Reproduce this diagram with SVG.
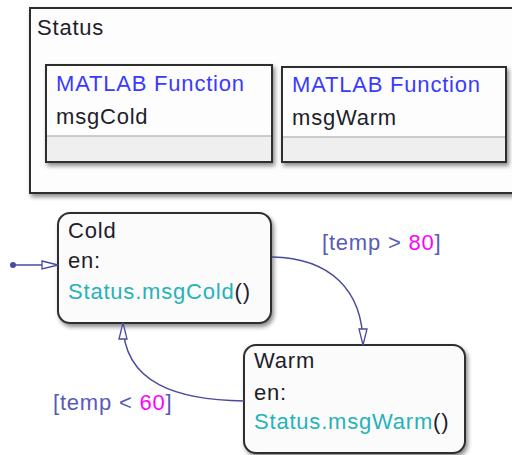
<svg xmlns="http://www.w3.org/2000/svg" width="512" height="455" viewBox="0 0 512 455">
<defs>
<filter id="sh" x="-10%" y="-10%" width="130%" height="130%">
<feDropShadow dx="2" dy="3" stdDeviation="2" flood-color="#000" flood-opacity="0.45"/>
</filter>
<marker id="arr" markerWidth="18" markerHeight="12" refX="17" refY="6" orient="auto" markerUnits="userSpaceOnUse">
<path d="M1,2 L17,6 L1,10 Z" fill="#fff" stroke="#4a4aa0" stroke-width="1.3"/>
</marker>
</defs>
<style>
text{font-family:"Liberation Sans",Arial,sans-serif;font-size:22px;letter-spacing:0.8px}
.box{fill:#fdfdfd;stroke:#2e2e2e;stroke-width:2}
.st{fill:#fbfbfb;stroke:#2e2e2e;stroke-width:2}
.foot{fill:#efefef}
.div{stroke:#bdbdbd;stroke-width:1.5}
.fn{fill:#3a3aff}
.dk{fill:#1e1e2a}
.tl{fill:#26b3b8}
.lb{fill:#5a5ab8}
.num{fill:#ff00ff}
.con{fill:none;stroke:#4a4aa0;stroke-width:1.5}
</style>
<g id="Status">
<rect class="box" x="30" y="8" width="490" height="185" filter="url(#sh)"/>
<text class="dk" x="37" y="35">Status</text>
</g>
<g id="msgCold">
<rect class="box" x="46" y="65" width="226" height="97" filter="url(#sh)"/>
<rect class="foot" x="47" y="136" width="224" height="25"/>
<line class="div" x1="47" y1="136" x2="271" y2="136"/>
<text class="fn" x="56" y="91">MATLAB Function</text>
<text class="dk" x="56" y="124">msgCold</text>
</g>
<g id="msgWarm">
<rect class="box" x="282" y="67" width="224" height="95" filter="url(#sh)"/>
<rect class="foot" x="283" y="137" width="222" height="24"/>
<line class="div" x1="283" y1="137" x2="505" y2="137"/>
<text class="fn" x="292" y="92">MATLAB Function</text>
<text class="dk" x="292" y="125">msgWarm</text>
</g>
<g id="Cold">
<rect class="st" x="58" y="213" width="213" height="110" rx="12" filter="url(#sh)"/>
<text class="dk" x="68" y="238">Cold</text>
<text class="dk" x="68" y="268">en:</text>
<text x="68" y="299"><tspan class="tl">Status.msgCold</tspan><tspan class="dk">()</tspan></text>
</g>
<g id="Warm">
<rect class="st" x="244" y="345" width="221" height="108" rx="12" filter="url(#sh)"/>
<text class="dk" x="254" y="368">Warm</text>
<text class="dk" x="254" y="400">en:</text>
<text x="254" y="429"><tspan class="tl">Status.msgWarm</tspan><tspan class="dk">()</tspan></text>
</g>
<g id="connectors">
<circle cx="13" cy="265" r="3" fill="#4a4aa0"/>
<path class="con" d="M13,265 L58,265" marker-end="url(#arr)"/>
<path class="con" d="M272,257 C330,258 363,290 363,345" marker-end="url(#arr)"/>
<path class="con" d="M244,401 C180,400 123,385 123,323" marker-end="url(#arr)"/>
<text x="322" y="250"><tspan class="lb">[temp &gt; </tspan><tspan class="num">80</tspan><tspan class="lb">]</tspan></text>
<text x="53" y="410"><tspan class="lb">[temp &lt; </tspan><tspan class="num">60</tspan><tspan class="lb">]</tspan></text>
</g>
</svg>
